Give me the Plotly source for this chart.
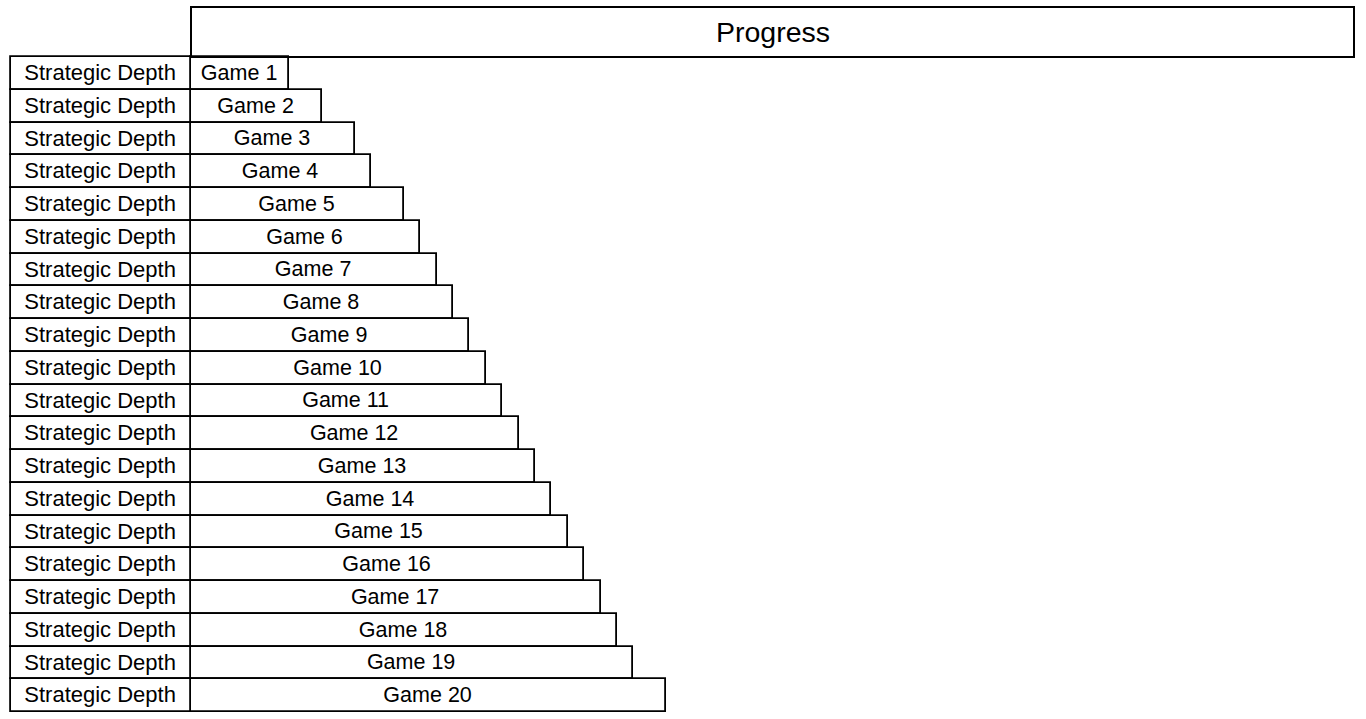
import plotly.graph_objects as go

W, H = 1366, 719

games = [f"Game {i}" for i in range(1, 21)]
progress = [6, 8, 10, 11, 13, 14, 15, 16, 17, 18, 19, 20, 21, 22, 23, 24, 25, 26, 27, 29]
row_label = "Strategic Depth"
header_title = "Progress"

FONT = "Liberation Sans, Arial, Helvetica, sans-serif"
LINE = dict(color="black", width=1.8)

# pixel geometry (page coordinates)
COL_L, COL_R = 11, 191        # label column
BAR_L = 191                   # bar base
HDR_R, HDR_T = 1354, 7        # header box
ROW_T, ROW_B = 57, 712        # rows area
UNIT = 16.38                  # px per progress unit
n = len(games)
ROW_H = (ROW_B - ROW_T) / n

def xdom(a, b):
    return [a / W, b / W]

def ydom(top, bot):
    return [1 - bot / H, 1 - top / H]

fig = go.Figure()

# left label column
fig.add_trace(go.Bar(
    y=games, x=[1] * n, orientation="h",
    xaxis="x2", yaxis="y",
    marker=dict(color="white", line=LINE),
    text=[row_label] * n, textposition="inside",
    insidetextanchor="middle", constraintext="none",
    textfont=dict(family=FONT, size=22, color="black"),
    hoverinfo="skip", showlegend=False,
))

# progress bars
fig.add_trace(go.Bar(
    y=games, x=progress, orientation="h",
    xaxis="x", yaxis="y",
    marker=dict(color="white", line=LINE),
    text=games, textposition="inside",
    insidetextanchor="middle", constraintext="none",
    textfont=dict(family=FONT, size=21.5, color="black"),
    hoverinfo="skip", showlegend=False,
))

# main x axis: domain with padding
mx_a, mx_b = BAR_L - 6, W
x2_a, x2_b = 0, COL_R + 6
y_top, y_bot = ROW_T - 4, ROW_B + 4

fig.update_layout(
    width=W, height=H,
    margin=dict(l=0, r=0, t=0, b=0),
    paper_bgcolor="white", plot_bgcolor="rgba(0,0,0,0)",
    bargap=0,
    font=dict(family=FONT, color="black"),
    xaxis=dict(domain=xdom(mx_a, mx_b),
               range=[(mx_a - BAR_L) / UNIT, (mx_b - BAR_L) / UNIT],
               visible=False, fixedrange=True),
    xaxis2=dict(domain=xdom(x2_a, x2_b),
                range=[(x2_a - COL_L) / (COL_R - COL_L), (x2_b - COL_L) / (COL_R - COL_L)],
                visible=False, anchor="y", fixedrange=True),
    yaxis=dict(domain=ydom(y_top, y_bot),
               range=[n - 0.5 + (y_bot - ROW_B) / ROW_H, -0.5 - (ROW_T - y_top) / ROW_H],
               visible=False, fixedrange=True),
    shapes=[dict(type="rect", xref="paper", yref="paper",
                 x0=BAR_L / W, x1=HDR_R / W, y0=1 - ROW_T / H, y1=1 - HDR_T / H,
                 line=dict(color="black", width=2), fillcolor="rgba(0,0,0,0)")],
    annotations=[dict(text=header_title, xref="paper", yref="paper",
                      x=(BAR_L + HDR_R) / 2 / W, y=1 - 32 / H,
                      xanchor="center", yanchor="middle",
                      showarrow=False, font=dict(family=FONT, size=28.5, color="black"))],
)

fig.write_html(
    "out.html",
    config={"displayModeBar": False},
    post_script="document.body.style.margin='0';document.body.style.overflow='hidden';",
)
